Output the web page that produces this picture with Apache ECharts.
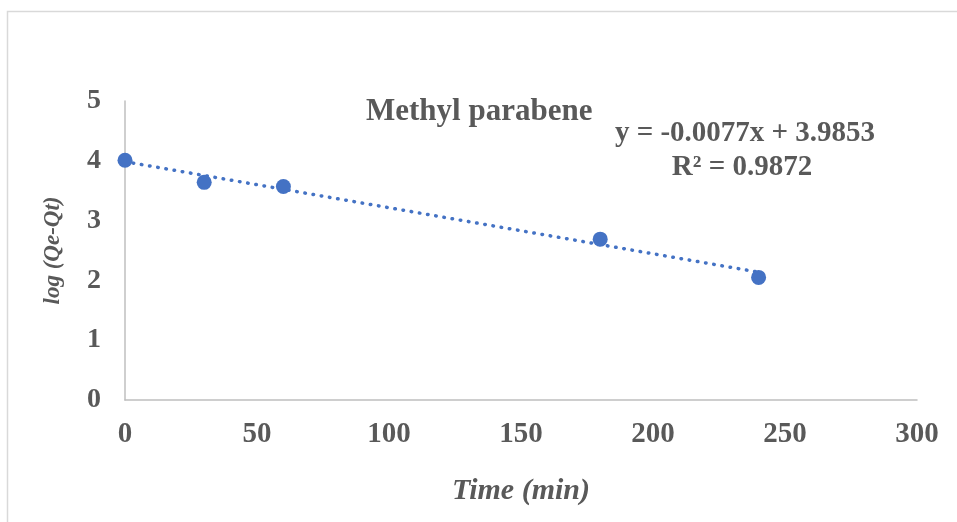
<!DOCTYPE html>
<html>
<head>
<meta charset="utf-8">
<script src="https://cdn.jsdelivr.net/npm/echarts@6/dist/echarts.min.js"></script>
<style>
  html, body { margin: 0; padding: 0; background: #fff; }
  #chart { width: 957px; height: 522px; }
</style>
</head>
<body>
<div id="chart"></div>
<script>
// Pseudo-first-order kinetics of methyl paraben adsorption
const timeMin = [0, 30, 60, 180, 240];
const logQeQt = [4.01, 3.64, 3.57, 2.69, 2.05];

// Linear fit reported on the chart
const fitSlope = -0.0077;
const fitIntercept = 3.9853;
const fitR2 = 0.9872;
const fitRange = [0, 240];

const xTicks = [0, 50, 100, 150, 200, 250, 300];
const yTicks = [0, 1, 2, 3, 4, 5];

const titleText = 'Methyl parabene';
const xName = 'Time (min)';
const yName = 'log (Qe-Qt)';

const blue = '#4472C4';
const grey = '#595959';
const font = '"Liberation Serif", "Times New Roman", serif';

const fitLine = fitRange.map(x => [x, fitSlope * x + fitIntercept]);
const eqText = 'y = ' + fitSlope.toFixed(4) + 'x + ' + fitIntercept.toFixed(4);
const r2Text = 'R\u00B2 = ' + fitR2.toFixed(4);

const chart = echarts.init(document.getElementById('chart'), null, { renderer: 'canvas' });

chart.setOption({
  backgroundColor: '#fff',
  animation: false,
  grid: { left: 125, right: 40, top: 101, bottom: 122 },
  graphic: [
    {
      type: 'rect',
      shape: { x: 7.5, y: 11.5, width: 960, height: 520 },
      style: { fill: 'none', stroke: '#D9D9D9', lineWidth: 1.5 },
      silent: true
    },
    {
      type: 'text', x: 366, y: 112,
      style: { text: titleText, font: 'bold 31px ' + font, fill: grey, textAlign: 'left', textVerticalAlign: 'middle' }
    },
    {
      type: 'text', x: 745, y: 134,
      style: { text: eqText, font: 'bold 29px ' + font, fill: grey, textAlign: 'center', textVerticalAlign: 'middle' }
    },
    {
      type: 'text', x: 742, y: 168,
      style: { text: r2Text, font: 'bold 29px ' + font, fill: grey, textAlign: 'center', textVerticalAlign: 'middle' }
    }
  ],
  xAxis: {
    type: 'value',
    min: xTicks[0],
    max: xTicks[xTicks.length - 1],
    interval: xTicks[1] - xTicks[0],
    name: xName,
    nameLocation: 'middle',
    nameGap: 76,
    nameTextStyle: { fontFamily: font, fontSize: 30, fontWeight: 'bold', fontStyle: 'italic', color: grey },
    axisLine: { show: true, lineStyle: { color: '#BFBFBF', width: 1.5 } },
    axisTick: { show: false },
    splitLine: { show: false },
    axisLabel: { margin: 20, fontFamily: font, fontSize: 29, fontWeight: 'bold', color: grey }
  },
  yAxis: {
    type: 'value',
    min: yTicks[0],
    max: yTicks[yTicks.length - 1],
    interval: yTicks[1] - yTicks[0],
    name: yName,
    nameLocation: 'middle',
    nameGap: 60,
    nameRotate: 90,
    nameTextStyle: { fontFamily: font, fontSize: 23, fontWeight: 'bold', fontStyle: 'italic', color: grey },
    axisLine: { show: true, onZero: false, lineStyle: { color: '#BFBFBF', width: 1.5 } },
    axisTick: { show: false },
    splitLine: { show: false },
    axisLabel: { margin: 24, padding: [6, 0, 0, 0], fontFamily: font, fontSize: 28, fontWeight: 'bold', color: grey }
  },
  series: [
    {
      type: 'line',
      data: fitLine,
      showSymbol: false,
      symbol: 'none',
      z: 2,
      lineStyle: { color: blue, width: 3.5, type: [0.5, 7.8], cap: 'round' },
      silent: true
    },
    {
      type: 'scatter',
      data: timeMin.map((t, i) => [t, logQeQt[i]]),
      symbol: 'circle',
      symbolSize: 15,
      z: 3,
      itemStyle: { color: blue, opacity: 1 }
    }
  ]
});
</script>
</body>
</html>
